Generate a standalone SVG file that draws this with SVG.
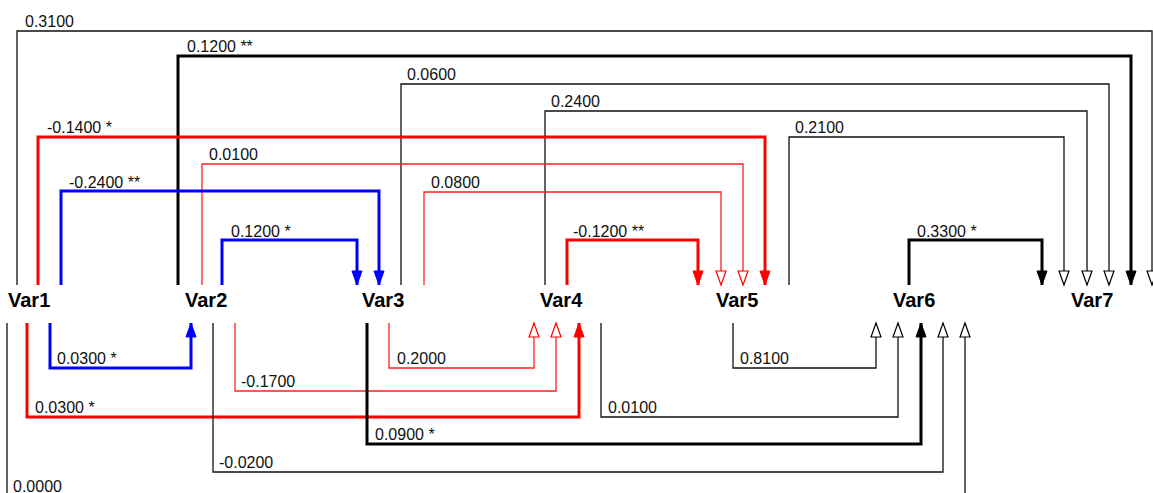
<svg xmlns="http://www.w3.org/2000/svg" width="1153" height="493" viewBox="0 0 1153 493">
<style>
.bg{fill:#fff}
.lbl{font-family:"Liberation Sans",Arial,sans-serif;font-size:16px;fill:#111}
.var{font-family:"Liberation Sans",Arial,sans-serif;font-size:20px;font-weight:bold;fill:#000}
.c{fill:none;stroke-linejoin:miter}
.kt{stroke:#111;stroke-width:1.3}
.kT{stroke:#000;stroke-width:3}
.rt{stroke:#ff2020;stroke-width:1.3}
.rT{stroke:#ff0000;stroke-width:3}
.bT{stroke:#0000ff;stroke-width:3}
</style>
<defs>
<marker id="fk" markerUnits="userSpaceOnUse" markerWidth="14" markerHeight="12" refX="14" refY="6" orient="auto" overflow="visible"><path d="M0,1 L14,6 L0,11 z" fill="#000" stroke="#000" stroke-width="1"/></marker>
<marker id="fr" markerUnits="userSpaceOnUse" markerWidth="14" markerHeight="12" refX="14" refY="6" orient="auto" overflow="visible"><path d="M0,1 L14,6 L0,11 z" fill="#f00" stroke="#f00" stroke-width="1"/></marker>
<marker id="fb" markerUnits="userSpaceOnUse" markerWidth="14" markerHeight="12" refX="14" refY="6" orient="auto" overflow="visible"><path d="M0,1 L14,6 L0,11 z" fill="#00f" stroke="#00f" stroke-width="1"/></marker>
<marker id="ok" markerUnits="userSpaceOnUse" markerWidth="14" markerHeight="12" refX="14" refY="6" orient="auto" overflow="visible"><path d="M0,1 L14,6 L0,11 z" fill="#fff" stroke="#000" stroke-width="1.2"/></marker>
<marker id="or" markerUnits="userSpaceOnUse" markerWidth="14" markerHeight="12" refX="14" refY="6" orient="auto" overflow="visible"><path d="M0,1 L14,6 L0,11 z" fill="#fff" stroke="#f00" stroke-width="1.2"/></marker>
</defs>
<rect class="bg" x="0" y="0" width="1153" height="493"/>

<g id="connectors">
  <!-- top connectors -->
  <path class="c kt" d="M17,285 V31 H1152 V285" marker-end="url(#ok)"/>
  <path class="c kT" d="M178,285 V56 H1131 V285" marker-end="url(#fk)"/>
  <path class="c kt" d="M401,285 V84 H1109 V285" marker-end="url(#ok)"/>
  <path class="c kt" d="M545,285 V111 H1087 V285" marker-end="url(#ok)"/>
  <path class="c kt" d="M789,285 V137 H1064 V285" marker-end="url(#ok)"/>
  <path class="c rT" d="M38,285 V137 H765 V285" marker-end="url(#fr)"/>
  <path class="c rt" d="M202,285 V164 H743 V285" marker-end="url(#or)"/>
  <path class="c bT" d="M61,285 V191 H379 V285" marker-end="url(#fb)"/>
  <path class="c rt" d="M424,285 V192 H721 V285" marker-end="url(#or)"/>
  <path class="c bT" d="M222,285 V240 H357 V285" marker-end="url(#fb)"/>
  <path class="c rT" d="M567,285 V240 H698 V285" marker-end="url(#fr)"/>
  <path class="c kT" d="M909,285 V240 H1042 V285" marker-end="url(#fk)"/>
  <!-- bottom connectors -->
  <path class="c bT" d="M50,323 V368 H191 V323" marker-end="url(#fb)"/>
  <path class="c rT" d="M27,323 V417 H579 V323" marker-end="url(#fr)"/>
  <path class="c rt" d="M235,323 V391 H556 V323" marker-end="url(#or)"/>
  <path class="c rt" d="M389,323 V368 H534 V323" marker-end="url(#or)"/>
  <path class="c kt" d="M213,323 V472 H943 V323" marker-end="url(#ok)"/>
  <path class="c kT" d="M367,323 V444 H921 V323" marker-end="url(#fk)"/>
  <path class="c kt" d="M601,323 V417 H898 V323" marker-end="url(#ok)"/>
  <path class="c kt" d="M733,323 V368 H876 V323" marker-end="url(#ok)"/>
  <path class="c kt" d="M7,323 V500 H965 V323" marker-end="url(#ok)"/>
</g>

<g id="labels">
  <text class="lbl" x="25" y="27">0.3100</text>
  <text class="lbl" x="187" y="52">0.1200 **</text>
  <text class="lbl" x="407" y="80">0.0600</text>
  <text class="lbl" x="551" y="107">0.2400</text>
  <text class="lbl" x="795" y="133">0.2100</text>
  <text class="lbl" x="47" y="133">-0.1400 *</text>
  <text class="lbl" x="209" y="160">0.0100</text>
  <text class="lbl" x="69" y="188">-0.2400 **</text>
  <text class="lbl" x="431" y="188">0.0800</text>
  <text class="lbl" x="231" y="237">0.1200 *</text>
  <text class="lbl" x="573" y="237">-0.1200 **</text>
  <text class="lbl" x="917" y="237">0.3300 *</text>
  <text class="lbl" x="57" y="364">0.0300 *</text>
  <text class="lbl" x="35" y="413">0.0300 *</text>
  <text class="lbl" x="241" y="387">-0.1700</text>
  <text class="lbl" x="397" y="364">0.2000</text>
  <text class="lbl" x="219" y="468">-0.0200</text>
  <text class="lbl" x="375" y="440">0.0900 *</text>
  <text class="lbl" x="608" y="413">0.0100</text>
  <text class="lbl" x="740" y="364">0.8100</text>
  <text class="lbl" x="13" y="492">0.0000</text>
</g>

<g id="Var1"><text class="var" x="8" y="307">Var1</text></g>
<g id="Var2"><text class="var" x="185" y="307">Var2</text></g>
<g id="Var3"><text class="var" x="362" y="307">Var3</text></g>
<g id="Var4"><text class="var" x="540" y="307">Var4</text></g>
<g id="Var5"><text class="var" x="716" y="307">Var5</text></g>
<g id="Var6"><text class="var" x="893" y="307">Var6</text></g>
<g id="Var7"><text class="var" x="1071" y="307">Var7</text></g>
</svg>
